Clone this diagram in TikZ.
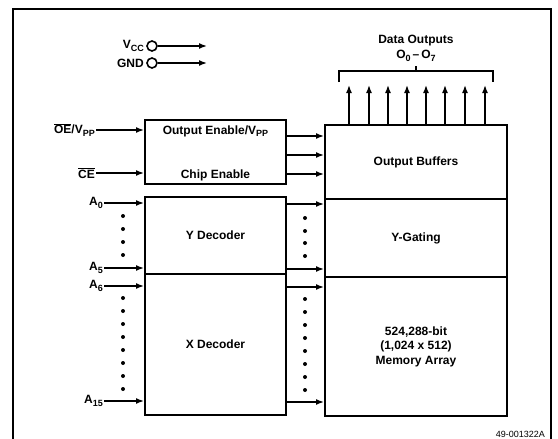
\documentclass[tikz,border=0pt]{standalone}
\usepackage{fontspec}
\setmainfont{Liberation Sans}
\usetikzlibrary{arrows.meta}
\newcommand{\lowidx}[1]{\raisebox{-0.4ex}{\fontsize{9}{10}\selectfont #1}}
\begin{document}
\begin{tikzpicture}[x=1pt,y=-1pt,
    txt/.style={font=\fontsize{12}{14.5}\selectfont\bfseries,inner sep=1pt},
    blk/.style={draw,line width=2pt,inner sep=0pt},
    sig/.style={line width=1.5pt,-{Latex[length=8pt,width=6pt]}},
    pincirc/.style={draw,circle,line width=1.6pt,minimum size=10pt,inner sep=0pt}]
  \useasboundingbox (0,0) rectangle (558,439);
  % outer frame
  \draw[line width=1.3pt] (13,439) -- (13,9) -- (551,9) -- (551,439);
  % supply pins
  \node[txt,anchor=east] (vcclbl) at (145,46) {V\lowidx{CC}};
  \node[txt,anchor=east] (gndlbl) at (145,63) {GND};
  \node[pincirc] (vccpin) at (152,46) {};
  \node[pincirc] (gndpin) at (152,63) {};
  \coordinate (vccend) at (207,46);
  \coordinate (gndend) at (207,63);
  \draw[sig] (vccpin) -- (vccend);
  \draw[sig] (gndpin) -- (gndend);
  % left column
  \node[blk,minimum width=141pt,minimum height=64pt] (ctrl) at (215.5,152) {};
  \node[txt] (oetxt) at (215.5,131) {Output Enable/V\lowidx{PP}};
  \node[txt] (cetxt) at (215.5,175) {Chip Enable};
  \node[blk,minimum width=141pt,minimum height=77pt] (ydec) at (215.5,235.5) {};
  \node[blk,minimum width=141pt,minimum height=141pt] (xdec) at (215.5,344.5) {};
  \node[txt] at (ydec) {Y Decoder};
  \node[txt] at (xdec) {X Decoder};
  % right column
  \node[blk,minimum width=182pt,minimum height=74pt] (obuf) at (416,162) {};
  \node[blk,minimum width=182pt,minimum height=78pt] (ygate) at (416,238) {};
  \node[blk,minimum width=182pt,minimum height=139pt] (marray) at (416,346.5) {};
  \node[txt] at (obuf) {Output Buffers};
  \node[txt] at (ygate) {Y-Gating};
  \node[txt,align=center] at (marray) {524,288-bit\\(1,024 x 512)\\Memory Array};
  % control inputs
  \node[txt,anchor=east] (oe) at (96,130) {$\overline{\mbox{OE}}$/V\lowidx{PP}};
  \node[txt,anchor=east] (ce) at (96,173) {$\overline{\mbox{CE}}$};
  \draw[sig] (oe.east) -- (oe.east -| ctrl.west);
  \draw[sig] (ce.east) -- (ce.east -| ctrl.west);
  % address inputs
  \node[txt,anchor=east] (a0) at (104,203) {A\lowidx{0}};
  \node[txt,anchor=east] (a5) at (104,268) {A\lowidx{5}};
  \node[txt,anchor=east] (a6) at (104,286) {A\lowidx{6}};
  \node[txt,anchor=east] (a15) at (104,401) {A\lowidx{15}};
  \foreach \a in {a0,a5} \draw[sig] (\a.east) -- (\a.east -| ydec.west);
  \foreach \a in {a6,a15} \draw[sig] (\a.east) -- (\a.east -| xdec.west);
  \foreach \y in {216,229,242,255} \fill (123,\y) circle (2pt);
  \foreach \y in {298,311,324,337,350,363,376,389} \fill (123,\y) circle (2pt);
  % internal buses
  \foreach \dy in {16,-3,-22}
    \draw[sig] ([yshift=\dy pt]ctrl.east) coordinate (c) -- (c -| obuf.west);
  \foreach \dy in {31.5,-33.5}
    \draw[sig] ([yshift=\dy pt]ydec.east) coordinate (c) -- (c -| ygate.west);
  \foreach \dy in {57.5,-57.5}
    \draw[sig] ([yshift=\dy pt]xdec.east) coordinate (c) -- (c -| marray.west);
  \foreach \y in {218,231,243,256} \fill (305,\y) circle (2pt);
  \foreach \y in {299,312,325,338,351,364,377,390} \fill (305,\y) circle (2pt);
  % data outputs
  \foreach \x [count=\i] in {349,369,388,407,426,445,465,485} {
    \coordinate (o\i) at (\x,85);
    \draw[sig] (obuf.north -| o\i) -- (o\i);
  }
  \draw[line width=1.4pt] (339,82) -- (339,71) -- (493,71) -- (493,82);
  \draw[line width=1.4pt] (416,71) -- (416,66);
  \node[txt] (dout) at (416,41) {Data Outputs};
  \node[txt] (orange) at (416,56) {O\lowidx{0}\,--\,O\lowidx{7}};
  \node[font=\fontsize{9}{10}\selectfont,anchor=east,inner sep=0pt] (fig) at (545,434) {49-001322A};
\end{tikzpicture}
\end{document}
